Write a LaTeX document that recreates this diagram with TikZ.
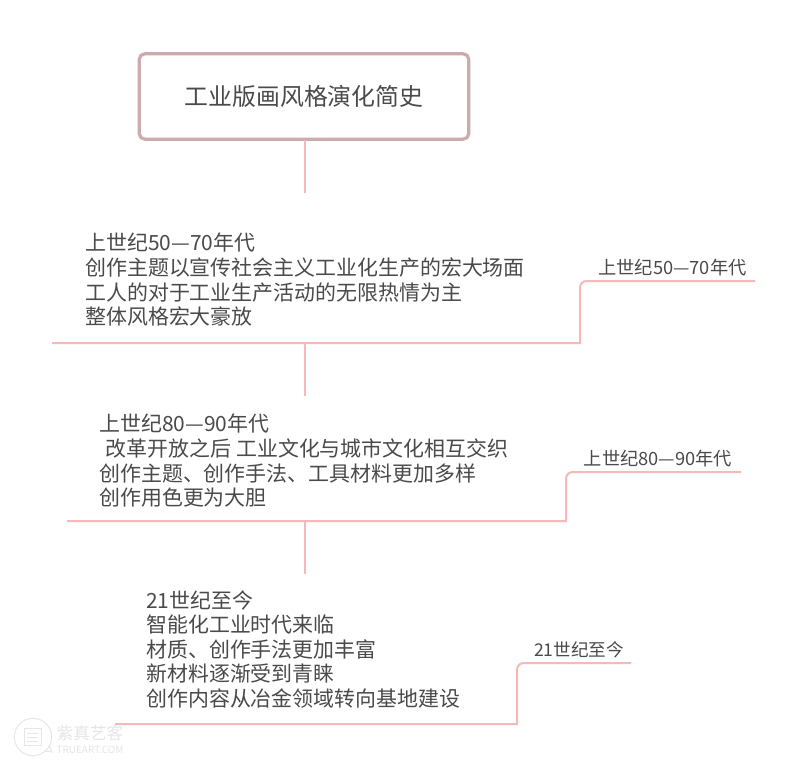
\documentclass[tikz,border=0pt]{standalone}
\usepackage{fontspec}
\setmainfont{Noto Sans CJK SC}
\definecolor{linepink}{HTML}{F5B9B9}
\definecolor{boxedge}{HTML}{CBABAB}
\definecolor{ink}{HTML}{4A4A4A}
\definecolor{wmgray}{HTML}{E6E6E6}
\newcommand{\bodysize}{\fontsize{15.7pt}{18.45pt}\selectfont}
\tikzset{
  x=0.75pt,y=-0.75pt,
  link/.style={draw=linepink,line width=1.5pt},
  stem/.style={draw=linepink,line width=1.2pt},
  titlebox/.style={draw=boxedge,line width=2.4pt,rounded corners=4pt,fill=white,minimum width=247pt,minimum height=64pt,inner sep=0pt,text=ink,font=\fontsize{17.9pt}{20pt}\selectfont},
  body/.style={anchor=north west,align=left,inner sep=0pt,text=ink,font=\bodysize},
  tag/.style={anchor=base,inner sep=0pt,text=ink,font=\fontsize{13.7pt}{15pt}\selectfont},
  wm/.style={inner sep=0pt,text=wmgray},
  wmline/.style={draw=wmgray,line width=0.7pt}
}
\begin{document}
\begin{tikzpicture}
\useasboundingbox (0,0) rectangle (800,769);
\fill[white] (0,0) rectangle (800,769);

\node[titlebox] (title) at (304,96.5) {工业版画风格演化简史};
\coordinate (s1end) at (305,193);
\draw[stem] (305,140) -- (s1end);

\node[body] (b1) at (85,233) {上世纪50—70年代\\创作主题以宣传社会主义工业化生产的宏大场面\\工人的对于工业生产活动的无限热情为主\\整体风格宏大豪放};
\coordinate (l1a) at (52,343);
\coordinate (l1b) at (580,343);
\coordinate (l1c) at (580,281);
\coordinate (l1d) at (755,281);
\draw[link] (l1a) -- (l1b) [rounded corners=5pt] -- (l1c) -- (l1d);
\node[tag] (t1) at (672.5,274) {上世纪50—70年代};
\coordinate (s2a) at (305,343);
\coordinate (s2b) at (305,396);
\draw[stem] (s2a) -- (s2b);

\node[body] (b2) at (99,414) {上世纪80—90年代\\\hspace*{5pt}改革开放之后 工业文化与城市文化相互交织\\创作主题、创作手法、工具材料更加多样\\创作用色更为大胆};
\coordinate (l2a) at (67,521);
\coordinate (l2b) at (566,521);
\coordinate (l2c) at (566,472);
\coordinate (l2d) at (741,472);
\draw[link] (l2a) -- (l2b) [rounded corners=5pt] -- (l2c) -- (l2d);
\node[tag] (t2) at (658,465) {上世纪80—90年代};
\coordinate (s3a) at (305,521);
\coordinate (s3b) at (305,574);
\draw[stem] (s3a) -- (s3b);

\node[body] (b3) at (146,590) {21世纪至今\\智能化工业时代来临\\材质、创作手法更加丰富\\新材料逐渐受到青睐\\创作内容从冶金领域转向基地建设};
\coordinate (l3a) at (115,724);
\coordinate (l3b) at (517,724);
\coordinate (l3c) at (517,663);
\coordinate (l3d) at (631,663);
\draw[link] (l3a) -- (l3b) [rounded corners=5pt] -- (l3c) -- (l3d);
\node[tag,font=\fontsize{13.2pt}{15pt}\selectfont] (t3) at (579,656) {21世纪至今};

% watermark
\draw[wmline] (33,737) circle[radius=14pt];
\draw[wmline] (44,751) -- (52,752) -- (49,745);
\draw[wmline] (24,728) rectangle (41,745);
\draw[wmline] (27,733) -- (38,733) (27,737) -- (38,737) (27,741) -- (38,741);
\node[wm,font=\fontsize{12.4pt}{14pt}\selectfont] (wm1) at (90,733) {紫真艺客};
\node[wm,font=\fontsize{7.5pt}{8pt}\selectfont] (wm2) at (90,750) {TRUEART.COM};
\end{tikzpicture}
\end{document}
